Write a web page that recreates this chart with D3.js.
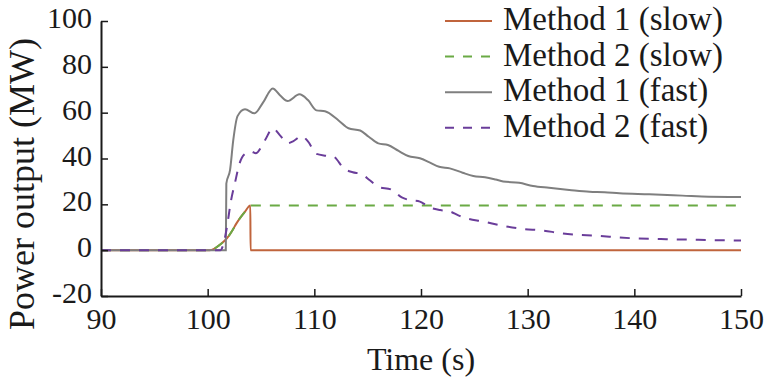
<!DOCTYPE html>
<html>
<head>
<meta charset="utf-8">
<script src="https://cdn.jsdelivr.net/npm/d3@7"></script>
</head>
<body style="margin:0">
<div id="chart-area"></div>
<script>
// Data
var xTicks = [90, 100, 110, 120, 130, 140, 150];
var yTicks = [-20, 0, 20, 40, 60, 80, 100];

var m1SlowTime  = [90, 100.2, 100.6, 101.1, 101.8, 102.3, 102.7, 103.1, 103.5, 104.0, 104.02, 150];
var m1SlowPower = [0, 0, 0.6, 2.2, 5.1, 8.5, 11.7, 14.4, 16.8, 19.5, 0, 0];

var m2SlowTime  = [90, 100.2, 100.6, 101.1, 101.8, 102.3, 102.7, 103.1, 103.5, 104.0, 150];
var m2SlowPower = [0, 0, 0.6, 2.2, 5.1, 8.5, 11.7, 14.4, 16.8, 19.5, 19.5];

var m1FastTime  = [90, 101.7, 101.75, 102.1, 102.4, 102.8, 103.5, 104.4, 105.2, 106.1, 106.8, 107.5, 108.6, 109.4,
                   110.2, 111.0, 112.3, 113.2, 114.3, 115.1, 116.0, 116.9, 117.9, 118.8, 119.9, 120.8, 121.7,
                   122.7, 123.9, 124.9, 126.0, 127.0, 127.7, 129.2, 130.5, 132.0, 133.9, 135.8, 137.2, 138.6, 141.4,
                   144.5, 147, 150];
var m1FastPower = [0, 0, 29, 35, 48, 58.5, 61.5, 59.7, 64.5, 70.6, 67.5, 65.1, 68, 65.5,
                   61, 60.6, 56.5, 53.2, 52.2, 49.5, 46.6, 45.9, 43.3, 41.1, 40.1, 38.3, 36.4,
                   35.7, 33.8, 32.4, 31.8, 30.8, 30.0, 29.4, 28.0, 27.2, 26.3, 25.5, 25.3, 24.8, 24.4,
                   23.8, 23.3, 23.2];

var m2FastTime  = [90, 101.2, 101.45, 101.76, 102.2, 102.55, 103.0, 103.5, 104.1, 104.5, 105.4, 106.1, 106.8, 107.5,
                   108.0, 108.8, 109.4, 110.2, 111.1, 111.8, 112.8, 113.6, 114.4, 115.2, 116.0, 117.2, 118.2, 118.9,
                   119.9, 120.8, 121.8, 122.7, 123.5, 124.2, 125.8, 127.7, 129.5, 131.4, 133.1, 136.7, 139.8, 143,
                   146, 150];
var m2FastPower = [0, 0, 2.2, 8.8, 21.9, 29.2, 38, 42, 43, 42.3, 48.2, 53.2, 50, 46.6,
                   47.5, 49.8, 47.5, 42, 41.2, 40.8, 35.5, 34, 33.2, 30.5, 27.6, 26.5, 23, 21.9,
                   21.2, 18.7, 17.5, 16.9, 15.2, 14, 12.5, 10.6, 9.3, 8.6, 7.4, 6.2, 5.2, 4.8,
                   4.5, 4.2];

var seriesNames = ["Method 1 (slow)", "Method 2 (slow)", "Method 1 (fast)", "Method 2 (fast)"];
var seriesColors = ["#c0643c", "#6aaa45", "#7f7f7f", "#6a3d9a"];
var seriesDash = [null, "10,9", null, "10,9"];

var series = [
    { time: m1SlowTime, power: m1SlowPower },
    { time: m2SlowTime, power: m2SlowPower },
    { time: m1FastTime, power: m1FastPower },
    { time: m2FastTime, power: m2FastPower }
].map(function(s, i) {
    return {
        name: seriesNames[i],
        color: seriesColors[i],
        dash: seriesDash[i],
        values: s.time.map(function(t, j) { return { t: t, p: s.power[j] }; })
    };
});

var serif = "Liberation Serif";
var ink = "#1a1a1a";

var svg = d3.select("#chart-area")
    .append("svg")
        .attr("width", 770)
        .attr("height", 381)
        .attr("font-family", serif)
        .style("font-family", "'Liberation Serif'");

// Scales
var x = d3.scaleLinear().domain([90, 150]).range([101, 741]);
var y = d3.scaleLinear().domain([-20, 100]).range([296, 21]);

// Lines
var line = d3.line()
    .x(function(d) { return x(d.t); })
    .y(function(d) { return y(d.p); })
    .curve(d3.curveMonotoneX);

svg.selectAll("path.series")
    .data(series)
    .enter()
    .append("path")
        .attr("class", "series")
        .attr("fill", "none")
        .attr("stroke", function(d) { return d.color; })
        .attr("stroke-width", 2)
        .attr("stroke-dasharray", function(d) { return d.dash; })
        .attr("d", function(d) { return line(d.values); });

// X Axis
var xAxis = svg.append("g")
    .attr("transform", "translate(0,296)")
    .call(d3.axisBottom(x).tickValues(xTicks).tickFormat(function(d) { return String(d); })
        .tickSizeInner(-7).tickSizeOuter(0).tickPadding(12));

// Y Axis
var yAxis = svg.append("g")
    .attr("transform", "translate(101,0)")
    .call(d3.axisLeft(y).tickValues(yTicks).tickFormat(function(d) { return String(d); })
        .tickSizeInner(-7).tickSizeOuter(0).tickPadding(9));

[xAxis, yAxis].forEach(function(ax) {
    ax.attr("font-family", serif).attr("font-size", 30);
    ax.select(".domain").attr("stroke", ink).attr("stroke-width", 2);
    ax.selectAll(".tick line").attr("stroke", ink).attr("stroke-width", 1.5);
    ax.selectAll(".tick text")
        .attr("font-family", serif)
        .style("font-family", "'Liberation Serif'")
        .attr("fill", ink);
});
yAxis.selectAll(".tick text").attr("dy", "0.22em");

// Axis labels
svg.append("text")
    .attr("x", 421)
    .attr("y", 370)
    .attr("font-family", serif)
    .style("font-family", "'Liberation Serif'")
    .attr("font-size", 32)
    .attr("fill", ink)
    .attr("text-anchor", "middle")
    .text("Time (s)");

svg.append("text")
    .attr("transform", "translate(34,184) rotate(-90)")
    .attr("font-family", serif)
    .style("font-family", "'Liberation Serif'")
    .attr("font-size", 36)
    .attr("fill", ink)
    .attr("text-anchor", "middle")
    .text("Power output (MW)");

// Legend
var legend = svg.selectAll("g.legend")
    .data(series)
    .enter()
    .append("g")
        .attr("class", "legend")
        .attr("transform", function(d, i) { return "translate(445," + (21 + i * 35.6) + ")"; });

legend.append("line")
    .attr("x1", 0)
    .attr("x2", 47)
    .attr("stroke", function(d) { return d.color; })
    .attr("stroke-width", 2)
    .attr("stroke-dasharray", function(d) { return d.dash ? "9,9" : null; });

legend.append("text")
    .attr("x", 58)
    .attr("y", 9)
    .attr("font-family", serif)
    .style("font-family", "'Liberation Serif'")
    .attr("font-size", 33)
    .attr("fill", ink)
    .text(function(d) { return d.name; });
</script>
</body>
</html>
